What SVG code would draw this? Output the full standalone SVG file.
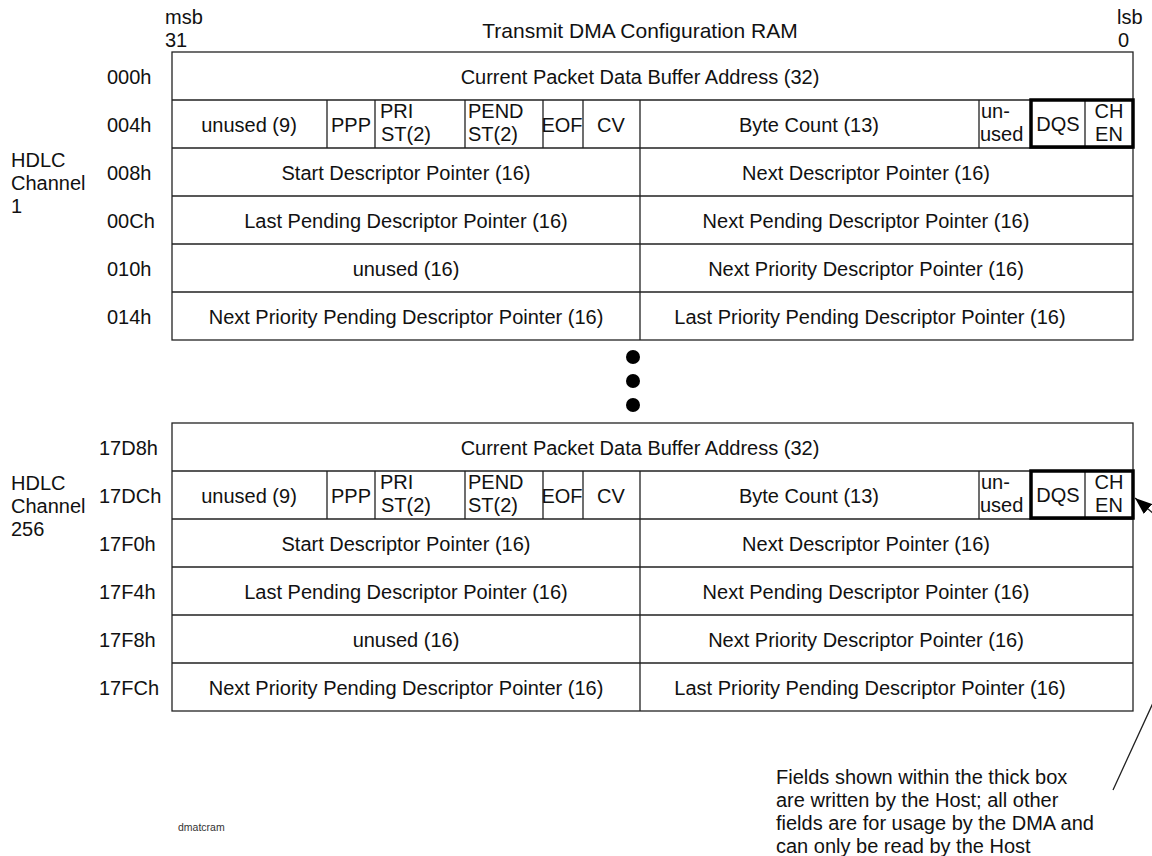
<svg xmlns="http://www.w3.org/2000/svg" width="1152" height="856" viewBox="0 0 1152 856">
<style>
text{font-family:"Liberation Sans",Arial,sans-serif;font-size:20px;fill:#111}
.m{text-anchor:middle}
.title{font-size:21px}
.cell{fill:#fff;stroke:#222;stroke-width:1.3}
.ln{stroke:#222;stroke-width:1.3;fill:none}
.thick{fill:none;stroke:#000;stroke-width:3.5}
.small{font-size:10.5px;fill:#333}
</style>
<defs>
<marker id="ah" viewBox="0 0 17 13" refX="17" refY="6.5" markerWidth="17" markerHeight="13" markerUnits="userSpaceOnUse" orient="auto">
<path d="M0,0 L17,6.5 L0,13 z" fill="#000"/>
</marker>
</defs>
<g id="header">
<text x="165" y="24">msb</text>
<text x="165" y="47">31</text>
<text class="m title" x="640" y="38">Transmit DMA Configuration RAM</text>
<text x="1117" y="24">lsb</text>
<text x="1118" y="47">0</text>
</g>
<g id="channel1">
<text x="11" y="167">HDLC</text>
<text x="11" y="190">Channel</text>
<text x="11" y="213">1</text>
<rect class="cell" x="172" y="52" width="961" height="288"/>
<path class="ln" d="M172,100H1133M172,148H1133M172,196H1133M172,244H1133M172,292H1133"/>
<path class="ln" d="M327,100V148M375,100V148M465,100V148M543,100V148M583,100V148M640,100V340M979,100V148M1085,100V148"/>
<rect class="thick" x="1031" y="100" width="102" height="47"/>
<text x="107" y="84">000h</text>
<text x="107" y="132">004h</text>
<text x="107" y="180">008h</text>
<text x="107" y="228">00Ch</text>
<text x="107" y="276">010h</text>
<text x="107" y="324">014h</text>
<text class="m" x="640" y="84">Current Packet Data Buffer Address (32)</text>
<text class="m" x="249" y="132">unused (9)</text>
<text class="m" x="351" y="132">PPP</text>
<text x="380" y="118">PRI</text>
<text x="381" y="141">ST(2)</text>
<text x="468" y="118">PEND</text>
<text x="468" y="141">ST(2)</text>
<text class="m" x="562" y="132">EOF</text>
<text class="m" x="611" y="132">CV</text>
<text class="m" x="809" y="132">Byte Count (13)</text>
<text x="981" y="118">un-</text>
<text x="980" y="141">used</text>
<text class="m" x="1058" y="131">DQS</text>
<text class="m" x="1109" y="118">CH</text>
<text class="m" x="1109" y="141">EN</text>
<text class="m" x="406" y="180">Start Descriptor Pointer (16)</text>
<text class="m" x="866" y="180">Next Descriptor Pointer (16)</text>
<text class="m" x="406" y="228">Last Pending Descriptor Pointer (16)</text>
<text class="m" x="866" y="228">Next Pending Descriptor Pointer (16)</text>
<text class="m" x="406" y="276">unused (16)</text>
<text class="m" x="866" y="276">Next Priority Descriptor Pointer (16)</text>
<text class="m" x="406" y="324">Next Priority Pending Descriptor Pointer (16)</text>
<text class="m" x="870" y="324">Last Priority Pending Descriptor Pointer (16)</text>
</g>
<g id="ellipsis">
<circle cx="633" cy="357" r="7" fill="#000"/>
<circle cx="633" cy="381" r="7" fill="#000"/>
<circle cx="633" cy="405" r="7" fill="#000"/>
</g>
<g id="channel256">
<text x="11" y="490">HDLC</text>
<text x="11" y="513">Channel</text>
<text x="11" y="536">256</text>
<rect class="cell" x="172" y="423" width="961" height="288"/>
<path class="ln" d="M172,471H1133M172,519H1133M172,567H1133M172,615H1133M172,663H1133"/>
<path class="ln" d="M327,471V519M375,471V519M465,471V519M543,471V519M583,471V519M640,471V711M979,471V519M1085,471V519"/>
<rect class="thick" x="1031" y="471" width="102" height="47"/>
<text x="99" y="455">17D8h</text>
<text x="99" y="503">17DCh</text>
<text x="99" y="551">17F0h</text>
<text x="99" y="599">17F4h</text>
<text x="99" y="647">17F8h</text>
<text x="99" y="695">17FCh</text>
<text class="m" x="640" y="455">Current Packet Data Buffer Address (32)</text>
<text class="m" x="249" y="503">unused (9)</text>
<text class="m" x="351" y="503">PPP</text>
<text x="380" y="489">PRI</text>
<text x="381" y="512">ST(2)</text>
<text x="468" y="489">PEND</text>
<text x="468" y="512">ST(2)</text>
<text class="m" x="562" y="503">EOF</text>
<text class="m" x="611" y="503">CV</text>
<text class="m" x="809" y="503">Byte Count (13)</text>
<text x="981" y="489">un-</text>
<text x="980" y="512">used</text>
<text class="m" x="1058" y="502">DQS</text>
<text class="m" x="1109" y="489">CH</text>
<text class="m" x="1109" y="512">EN</text>
<text class="m" x="406" y="551">Start Descriptor Pointer (16)</text>
<text class="m" x="866" y="551">Next Descriptor Pointer (16)</text>
<text class="m" x="406" y="599">Last Pending Descriptor Pointer (16)</text>
<text class="m" x="866" y="599">Next Pending Descriptor Pointer (16)</text>
<text class="m" x="406" y="647">unused (16)</text>
<text class="m" x="866" y="647">Next Priority Descriptor Pointer (16)</text>
<text class="m" x="406" y="695">Next Priority Pending Descriptor Pointer (16)</text>
<text class="m" x="870" y="695">Last Priority Pending Descriptor Pointer (16)</text>
</g>
<g id="note">
<text x="776" y="784">Fields shown within the thick box</text>
<text x="776" y="807">are written by the Host; all other</text>
<text x="776" y="830">fields are for usage by the DMA and</text>
<text x="776" y="853">can only be read by the Host</text>
</g>
<g id="label">
<text class="small" x="178" y="831">dmatcram</text>
</g>
<g id="connectors">
<path class="ln" d="M1113,790 L1175,655 L1185,540 L1135,498" stroke="#000" marker-end="url(#ah)"/>
</g>
</svg>
